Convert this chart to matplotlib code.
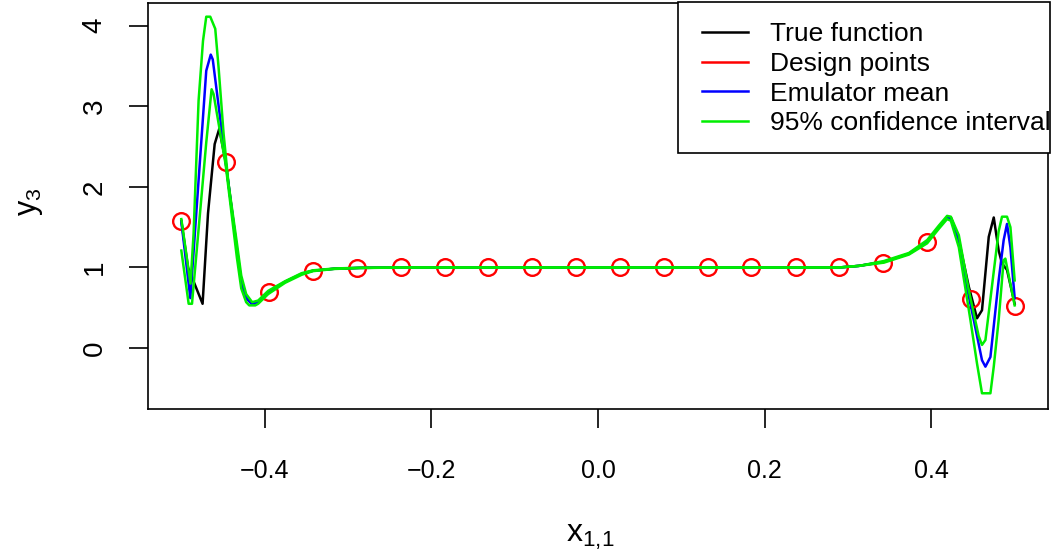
import matplotlib
matplotlib.use('Agg')
import matplotlib.pyplot as plt
from matplotlib.lines import Line2D
from matplotlib.patches import Rectangle

plt.rcParams['font.family'] = ['Liberation Sans', 'DejaVu Sans']

# design points (20 runs on [-0.5, 0.5])
design_x = [-0.5, -0.447, -0.395, -0.342, -0.289, -0.237, -0.184, -0.132, -0.079, -0.026,
            0.026, 0.079, 0.132, 0.184, 0.237, 0.289, 0.342, 0.395, 0.447, 0.5]
design_y = [1.58, 2.31, 0.70, 0.96, 0.99, 1.0, 1.0, 1.0, 1.0, 1.0,
            1.0, 1.0, 1.0, 1.0, 1.0, 1.0, 1.05, 1.32, 0.61, 0.52]

# true function
true_x = [-0.5, -0.492, -0.4745, -0.468, -0.46, -0.4545, -0.447, -0.433, -0.428, -0.422,
          -0.415, -0.408, -0.396, -0.376, -0.356, -0.342, -0.316, -0.286, -0.238, 0.0,
          0.289, 0.313, 0.343, 0.373, 0.395, 0.409, 0.419, 0.424, 0.433, 0.445,
          0.4548, 0.4608, 0.4689, 0.4749, 0.4808, 0.4848, 0.4908, 0.5]
true_y = [1.58, 1.0, 0.55, 1.67, 2.53, 2.72, 2.32, 1.21, 0.82, 0.62,
          0.545, 0.57, 0.69, 0.82, 0.92, 0.96, 0.985, 0.995, 1.0, 1.0,
          1.0, 1.02, 1.07, 1.17, 1.32, 1.50, 1.62, 1.61, 1.34, 0.76,
          0.37, 0.47, 1.38, 1.62, 1.21, 1.05, 0.97, 0.55]

# emulator mean
mean_x = [-0.5, -0.4892, -0.4701, -0.4647, -0.4623, -0.4469, -0.4333, -0.4281, -0.4222, -0.415,
          -0.4078, -0.3958, -0.3755, -0.3555, -0.3419, -0.3156, -0.2857, -0.2377, 0.0,
          0.2892, 0.3132, 0.3431, 0.3731, 0.395, 0.409, 0.4189, 0.4234, 0.433, 0.441,
          0.4509, 0.4608, 0.4649, 0.4709, 0.4808, 0.4868, 0.4908, 0.4949, 0.5]
mean_y = [1.57, 0.62, 3.44, 3.64, 3.58, 2.32, 1.21, 0.82, 0.62, 0.545,
          0.57, 0.69, 0.82, 0.92, 0.96, 0.985, 0.995, 1.0, 1.0,
          1.0, 1.02, 1.07, 1.17, 1.32, 1.50, 1.62, 1.61, 1.34, 0.84,
          0.35, -0.15, -0.23, -0.11, 0.84, 1.34, 1.54, 1.25, 0.62]

# 95% interval, upper bound
upper_x = [-0.5, -0.489, -0.4853, -0.4793, -0.474, -0.4701, -0.4653, -0.4593, -0.4553, -0.4493,
           -0.4434, -0.4333, -0.4281, -0.4222, -0.415, -0.4078, -0.3958, -0.3755, -0.3555, -0.3419,
           -0.3156, -0.2857, -0.2377, 0.0, 0.2892, 0.3132, 0.3431, 0.3731, 0.395, 0.409,
           0.4189, 0.4234, 0.433, 0.4449, 0.4568, 0.4608, 0.4649, 0.4808, 0.4848, 0.4908,
           0.4949, 0.5]
upper_y = [1.6, 0.8, 1.42, 3.07, 3.81, 4.11, 4.11, 3.96, 3.48, 2.66,
           2.04, 1.30, 0.90, 0.67, 0.57, 0.59, 0.71, 0.83, 0.93, 0.965,
           0.988, 0.997, 1.0, 1.0, 1.0, 1.02, 1.08, 1.18, 1.34, 1.52,
           1.64, 1.63, 1.40, 0.72, 0.15, 0.04, 0.10, 1.45, 1.63, 1.63,
           1.50, 0.84]

# 95% interval, lower bound
lower_x = [-0.5, -0.4912, -0.4872, -0.4701, -0.4637, -0.4613, -0.4469, -0.4333, -0.4281, -0.4222,
           -0.4185, -0.4113, -0.4078, -0.3958, -0.3755, -0.3555, -0.3419, -0.3156, -0.2857, -0.2377,
           0.0, 0.2892, 0.3132, 0.3431, 0.3731, 0.395, 0.409, 0.4189, 0.4234, 0.433,
           0.4469, 0.4548, 0.4608, 0.4709, 0.4749, 0.4808, 0.4868, 0.4888, 0.5]
lower_y = [1.21, 0.55, 0.55, 2.55, 3.21, 3.15, 2.28, 1.12, 0.74, 0.57,
           0.53, 0.53, 0.55, 0.67, 0.81, 0.91, 0.955, 0.982, 0.993, 1.0,
           1.0, 1.0, 1.02, 1.06, 1.16, 1.30, 1.48, 1.60, 1.58, 1.25,
           0.35, -0.19, -0.56, -0.56, -0.23, 0.35, 1.09, 1.11, 0.53]

green = '#00ee00'
W, H = 1058, 557

fig = plt.figure(figsize=(W / 100, H / 100), dpi=100)
ax = fig.add_axes([148 / W, 1 - 409 / H, 900 / W, 406 / H])

ax.plot(true_x, true_y, color='black', lw=1.8)
ax.plot(design_x, design_y, 'o', ms=12, mfc='none', mec='red', mew=1.7)
ax.plot(mean_x, mean_y, color='blue', lw=1.8)
ax.plot(upper_x, upper_y, color=green, lw=1.8)
ax.plot(lower_x, lower_y, color=green, lw=1.8)

ax.set_xlim(-0.54, 0.54)
ax.set_ylim(-0.755, 4.28)
ax.set_xticks([-0.4, -0.2, 0.0, 0.2, 0.4])
ax.set_xticklabels(['\u22120.4', '\u22120.2', '0.0', '0.2', '0.4'], fontsize=18)
ax.set_yticks([0, 1, 2, 3, 4])
ax.set_yticklabels(['0', '1', '2', '3', '4'], rotation=90, va='center', fontsize=20)
ax.tick_params(axis='both', direction='out', length=14, width=1.2)
ax.tick_params(axis='x', pad=22)
ax.tick_params(axis='y', pad=15)
for s in ax.spines.values():
    s.set_linewidth(1.2)

ax.set_xlabel(r'$\mathregular{x_{1,\!1}}$', fontsize=23)
ax.xaxis.set_label_coords(0.492, -0.315)
ax.xaxis.label.set_va('center')
ax.set_ylabel(r'$\mathregular{y_3}$', fontsize=22)
ax.yaxis.set_label_coords(-0.131, 0.51)
ax.yaxis.label.set_va('center')

# legend box drawn like R: text runs up to the right border
fig.add_artist(Rectangle((678 / W, 1 - 153 / H), 372 / W, 151 / H, transform=fig.transFigure,
                         facecolor='white', edgecolor='black', lw=1.2, zorder=2))
handles = [Line2D([], [], color=c, lw=1.8) for c in ['black', 'red', 'blue', green]]
labels = ['True function', 'Design points', 'Emulator mean', '95% confidence interval']
leg = fig.legend(handles, labels, loc='upper left', bbox_to_anchor=(702 / W, 1 - 22 / H),
                 borderaxespad=0, borderpad=0, fontsize=19, frameon=False,
                 handlelength=1.74, handletextpad=0.83, labelspacing=0.22)
leg.set_zorder(5)

fig.savefig('out.png', dpi=100)
